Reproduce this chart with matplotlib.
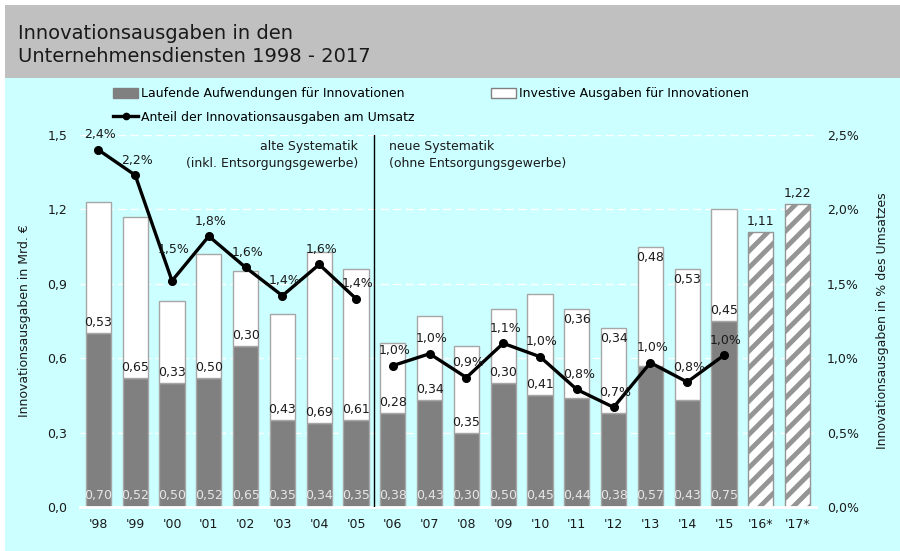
import matplotlib
matplotlib.use('Agg')
import matplotlib.pyplot as plt
from matplotlib.patches import Patch, Rectangle
from matplotlib.lines import Line2D
from matplotlib.ticker import FuncFormatter
import numpy as np

plt.rcParams['font.family'] = 'DejaVu Sans'
plt.rcParams['hatch.linewidth'] = 3.5

# Daten
years = ["'98", "'99", "'00", "'01", "'02", "'03", "'04", "'05", "'06", "'07",
         "'08", "'09", "'10", "'11", "'12", "'13", "'14", "'15", "'16*", "'17*"]
laufend = [0.70, 0.52, 0.50, 0.52, 0.65, 0.35, 0.34, 0.35, 0.38, 0.43,
           0.30, 0.50, 0.45, 0.44, 0.38, 0.57, 0.43, 0.75]
investiv = [0.53, 0.65, 0.33, 0.50, 0.30, 0.43, 0.69, 0.61, 0.28, 0.34,
            0.35, 0.30, 0.41, 0.36, 0.34, 0.48, 0.53, 0.45]
planung = [1.11, 1.22]  # '16*, '17*
anteil_alt = [2.40, 2.23, 1.52, 1.82, 1.61, 1.42, 1.63, 1.40]        # '98-'05
anteil_neu = [0.95, 1.03, 0.87, 1.10, 1.01, 0.79, 0.67, 0.97, 0.84, 1.02]  # '06-'15
anteil_labels_alt = ['2,4%', '2,2%', '1,5%', '1,8%', '1,6%', '1,4%', '1,6%', '1,4%']
anteil_labels_neu = ['1,0%', '1,0%', '0,9%', '1,1%', '1,0%', '0,8%', '0,7%', '1,0%', '0,8%', '1,0%']

FS = 9
TXT = '#1a1a1a'

def de(v, nd=2):
    return f'{v:.{nd}f}'.replace('.', ',')

fig = plt.figure(figsize=(9, 5.51), dpi=100)
fig.patch.set_facecolor('white')

# Hintergrund: grauer Titelbereich, cyan Diagrammbereich
fig.add_artist(Rectangle((5/900, 1-78/551), 1, 73/551, transform=fig.transFigure,
                         facecolor='#c0c0c0', edgecolor='none', zorder=0))
fig.add_artist(Rectangle((5/900, 0), 1, 1-78/551, transform=fig.transFigure,
                         facecolor='#ccffff', edgecolor='none', zorder=0))

fig.text(18/900, 1-45/551, 'Innovationsausgaben in den\nUnternehmensdiensten 1998 - 2017',
         fontsize=14, va='center', ha='left', color=TXT, linespacing=1.3)

ax = fig.add_axes([80/900, 44/551, 736/900, 372/551])
ax.set_facecolor('none')
x = np.arange(len(years))
n = len(laufend)
width = 0.68

ax.bar(x[:n], laufend, width, color='#808080', edgecolor='#a6a6a6', linewidth=1, zorder=2)
ax.bar(x[:n], investiv, width, bottom=laufend, color='white', edgecolor='#a6a6a6',
       linewidth=1, zorder=2)
ax.bar(x[n:], planung, width, color='white', edgecolor='#959595', hatch='//',
       linewidth=1, zorder=2)

# Jahre, bei denen das Label der investiven Ausgaben oben im Balken steht
label_oben = {"'11", "'12", "'13", "'14"}

for i in range(n):
    ax.annotate(de(laufend[i]), (x[i], 0), xytext=(0, 5), textcoords='offset pixels',
                ha='center', va='bottom', fontsize=FS, color='#e6e6e6', zorder=4)
    if years[i] in label_oben:
        ax.annotate(de(investiv[i]), (x[i], laufend[i] + investiv[i]), xytext=(0, -4),
                    textcoords='offset pixels', ha='center', va='top', fontsize=FS,
                    color=TXT, zorder=4)
    else:
        ax.annotate(de(investiv[i]), (x[i], laufend[i]), xytext=(0, 4),
                    textcoords='offset pixels', ha='center', va='bottom', fontsize=FS,
                    color=TXT, zorder=4)
for i, v in enumerate(planung):
    ax.annotate(de(v), (x[n + i], v), xytext=(0, 4), textcoords='offset pixels',
                ha='center', va='bottom', fontsize=FS, color=TXT, zorder=4)

ax.set_xlim(-0.5, len(years) - 0.5)
ax.set_ylim(0, 1.5)
ax.set_yticks([0, 0.3, 0.6, 0.9, 1.2, 1.5])
ax.yaxis.set_major_formatter(FuncFormatter(lambda v, p: de(v, 1)))
ax.set_xticks(x)
ax.set_xticklabels(years)
ax.tick_params(axis='both', length=0, labelsize=FS, colors=TXT)
ax.tick_params(axis='y', pad=9)
ax.tick_params(axis='x', pad=8)
ax.grid(axis='y', color='white', linestyle=(0, (6, 3)), linewidth=1, zorder=1)
ax.set_axisbelow(True)
for s in ['top', 'right', 'left']:
    ax.spines[s].set_visible(False)
ax.spines['bottom'].set_color('white')
ax.spines['bottom'].set_linewidth(2)
ax.set_ylabel('Innovationsausgaben in Mrd. €', fontsize=FS, labelpad=12, color=TXT)

# Trennlinie alte/neue Systematik
ax.axvline(7.5, color='black', linewidth=1, zorder=3)
ax.text(7.05, 1.478, 'alte Systematik\n(inkl. Entsorgungsgewerbe)', ha='right', va='top',
        fontsize=FS, color=TXT, linespacing=1.35)
ax.text(7.9, 1.478, 'neue Systematik\n(ohne Entsorgungsgewerbe)', ha='left', va='top',
        fontsize=FS, color=TXT, linespacing=1.35)

# Anteil am Umsatz (rechte Achse)
ax2 = ax.twinx()
ax2.set_ylim(0, 2.5)
ax2.set_yticks([0, 0.5, 1.0, 1.5, 2.0, 2.5])
ax2.yaxis.set_major_formatter(FuncFormatter(lambda v, p: de(v, 1) + '%'))
ax2.tick_params(axis='y', length=0, labelsize=FS, pad=8, colors=TXT)
for s in ax2.spines.values():
    s.set_visible(False)
ax2.set_ylabel('Innovationsausgaben in % des Umsatzes', fontsize=FS, labelpad=12, color=TXT)

xa = x[:len(anteil_alt)]
xn = x[len(anteil_alt):len(anteil_alt) + len(anteil_neu)]
for xs, ys, labs in [(xa, anteil_alt, anteil_labels_alt), (xn, anteil_neu, anteil_labels_neu)]:
    ax2.plot(xs, ys, color='black', linewidth=2.4, marker='o', markersize=5.5, zorder=5)
    for xi, yi, lab in zip(xs, ys, labs):
        dy = 31 if years[xi] == "'00" else 15
        ax2.annotate(lab, (xi, yi), xytext=(2, dy), textcoords='offset pixels',
                     ha='center', va='center', fontsize=FS, color=TXT, zorder=6)

# Legende
h_lauf = Patch(facecolor='#808080', edgecolor='#808080')
h_inv = Patch(facecolor='white', edgecolor='#808080')
h_line = Line2D([], [], color='black', linewidth=2.4, marker='o', markersize=4.5)
leg_kw = dict(frameon=False, fontsize=FS, handlelength=2.0, handleheight=0.8,
              handletextpad=0.25, borderpad=0, borderaxespad=0, labelspacing=0.85)
fig.legend([h_lauf, h_line], ['Laufende Aufwendungen für Innovationen',
                              'Anteil der Innovationsausgaben am Umsatz'],
           loc='center left', bbox_to_anchor=(113/900, 1-105.5/551), **leg_kw)
fig.legend([h_inv], ['Investive Ausgaben für Innovationen'],
           loc='center left', bbox_to_anchor=(491/900, 1-94/551), **leg_kw)

fig.savefig('out.png', dpi=100)
